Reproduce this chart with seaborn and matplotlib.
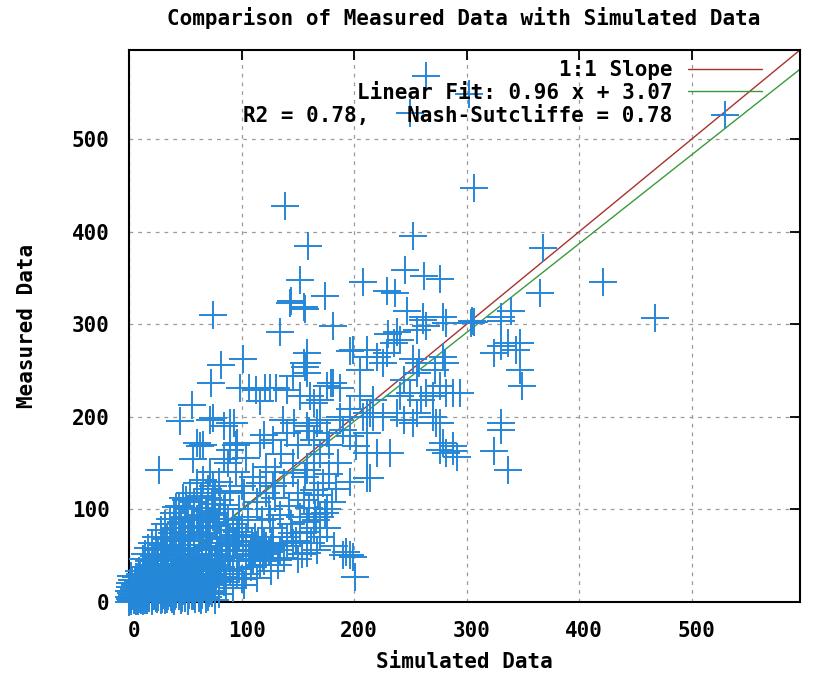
import matplotlib
matplotlib.use("Agg")
import matplotlib.pyplot as plt
from matplotlib.lines import Line2D
from matplotlib.transforms import ScaledTranslation
import pandas as pd
import seaborn as sns

title = "Comparison of Measured Data with Simulated Data"
x_label = "Simulated Data"
y_label = "Measured Data"
ticks = [0, 100, 200, 300, 400, 500]
axis_max = 596
fit_slope = 0.96
fit_intercept = 3.07
r2 = 0.78
nash_sutcliffe = 0.78

# (simulated, measured)
outlier_points = [
    (264, 568), (302, 548), (250, 528), (139, 428), (306, 447), (159, 384),
    (252, 395), (245, 358), (262, 352), (276, 349), (152, 348), (208, 345),
    (229, 336), (236, 334), (144, 325), (174, 330), (156, 316), (75, 310),
    (134, 292), (181, 298), (238, 291), (235, 280), (247, 314), (261, 308),
    (279, 308), (256, 294), (264, 298), (306, 302), (304, 301), (305, 303),
    (330, 308), (339, 314), (82, 256), (101, 262), (73, 236), (107, 231),
    (121, 231), (131, 231), (156, 254), (158, 258), (146, 244), (196, 271),
    (211, 272), (220, 265), (226, 258), (252, 262), (258, 258), (176, 233),
    (181, 236), (161, 222), (205, 222), (217, 218), (241, 222), (250, 226),
    (276, 233), (282, 226), (294, 226), (272, 251), (281, 258), (330, 276),
    (337, 280), (344, 272), (330, 193), (56, 213), (45, 195), (72, 197),
    (90, 193), (137, 197), (147, 193), (167, 193), (187, 200), (211, 204),
    (217, 200), (244, 197), (252, 193), (276, 193), (368, 382), (421, 346),
    (467, 307), (365, 334), (330, 303), (324, 269), (347, 280), (347, 251),
    (349, 233), (288, 226), (264, 226), (330, 186), (324, 163), (337, 143),
    (276, 164), (288, 163), (282, 161), (291, 157), (232, 161), (211, 161),
    (220, 161), (211, 134), (196, 130), (190, 51), (196, 51), (201, 27),
    (167, 56), (158, 53), (75, 199), (84, 190), (93, 193), (99, 231),
    (113, 229), (125, 231), (116, 217), (140, 229), (143, 323), (155, 319),
    (60, 172), (66, 170), (96, 172), (116, 172), (230, 289), (241, 283),
    (261, 305), (282, 301), (199, 272), (211, 265), (229, 269), (205, 251),
    (256, 247), (244, 240), (279, 265), (270, 222), (259, 218), (158, 269),
    (155, 258), (158, 247), (179, 236), (187, 231), (170, 218), (196, 208),
    (214, 204), (208, 200), (226, 200), (238, 204), (256, 204), (270, 200),
    (273, 193), (187, 197), (190, 186), (152, 222), (164, 215), (170, 197),
    (158, 190), (176, 182), (164, 175), (196, 179), (211, 182), (202, 168),
    (279, 172), (288, 168), (27, 143), (63, 168), (57, 154), (84, 154),
    (90, 164), (75, 125), (81, 110), (51, 110), (42, 103), (116, 128),
    (122, 118), (128, 125), (146, 139), (158, 143), (164, 121), (193, 54),
    (199, 49), (76, 2), (214, 134),
]

band_points = [
    (62, 88), (65, 102), (68, 75), (70, 112), (72, 60), (75, 94), (78, 82),
    (80, 130), (82, 68), (85, 105), (88, 90), (90, 120), (92, 72), (95, 140),
    (98, 100), (100, 80), (102, 118), (104, 62), (106, 92), (108, 56),
    (110, 135), (112, 70), (114, 108), (116, 50), (118, 88), (120, 64),
    (122, 146), (124, 100), (126, 58), (128, 80), (130, 112), (132, 45),
    (134, 94), (136, 70), (138, 128), (140, 60), (142, 104), (144, 84),
    (146, 150), (148, 66), (150, 118), (152, 92), (154, 52), (156, 135),
    (158, 76), (160, 102), (162, 64), (164, 150), (166, 88), (168, 116),
    (170, 70), (172, 128), (174, 96), (176, 80), (178, 138), (180, 108),
    (182, 60), (184, 122), (60, 20), (66, 35), (72, 12), (78, 40), (84, 22),
    (90, 48), (96, 30), (102, 18), (108, 38), (114, 26), (120, 44),
    (126, 34), (132, 40), (138, 48), (150, 46), (110, 60), (112, 55),
    (115, 66), (118, 58), (109, 65), (135, 160), (128, 175), (150, 170),
    (170, 160), (186, 150), (120, 180), (104, 155), (95, 170), (88, 150),
    (140, 182), (160, 185), (178, 170), (100, 125), (130, 140), (155, 110),
    (165, 95), (145, 75), (125, 90), (107, 52), (110, 50), (113, 62),
    (116, 56), (119, 48), (122, 60), (124, 54), (127, 64), (104, 70),
    (101, 60), (98, 72), (95, 66), (92, 56), (89, 64), (86, 60),
]

core_points = [
    (0, 0), (1, 3), (2, 1), (3, 6), (4, 2), (5, 9), (6, 4), (7, 12), (8, 1),
    (9, 7), (10, 3), (11, 15), (12, 5), (13, 10), (14, 2), (15, 18), (16, 8),
    (17, 13), (18, 4), (19, 22), (20, 11), (21, 6), (22, 16), (23, 25),
    (24, 9), (25, 3), (26, 19), (27, 13), (28, 28), (29, 7), (30, 22),
    (31, 15), (32, 2), (33, 33), (34, 11), (35, 26), (36, 18), (37, 5),
    (38, 38), (39, 14), (40, 29), (41, 21), (42, 9), (43, 45), (44, 17),
    (45, 34), (46, 26), (47, 4), (48, 40), (49, 12), (50, 31), (51, 22),
    (52, 55), (53, 8), (54, 44), (55, 27), (56, 16), (57, 36), (58, 62),
    (59, 3), (60, 48), (62, 24), (63, 33), (65, 58), (66, 14), (68, 41),
    (70, 70), (71, 29), (73, 52), (74, 19), (76, 36), (78, 64), (80, 9),
    (82, 45), (84, 27), (86, 78), (88, 55), (90, 34), (92, 15), (94, 62),
    (96, 44), (98, 88), (100, 25), (0, 5), (0, 12), (1, 20), (2, 28),
    (1, 16), (3, 24), (2, 10), (5, 18), (6, 27), (8, 22), (10, 30),
    (12, 46), (14, 52), (15, 33), (17, 58), (18, 44), (20, 64), (22, 50),
    (24, 70), (26, 56), (28, 78), (30, 62), (32, 84), (34, 68), (36, 90),
    (38, 74), (40, 96), (42, 80), (44, 104), (46, 86), (48, 112), (50, 92),
    (52, 100), (54, 118), (56, 82), (58, 108), (60, 128), (62, 94),
    (64, 114), (66, 132), (68, 98), (70, 122), (72, 140), (74, 106),
    (76, 118), (4, 14), (6, 20), (8, 12), (10, 22), (12, 30), (14, 24),
    (16, 34), (18, 28), (20, 40), (22, 34), (24, 46), (26, 38), (28, 50),
    (30, 44), (32, 56), (34, 48), (36, 60), (38, 52), (40, 66), (42, 58),
    (44, 70), (46, 62), (48, 76), (50, 68), (52, 80), (54, 72), (56, 88),
    (58, 76), (60, 90), (64, 82), (68, 92), (72, 86), (76, 96), (80, 90),
    (84, 100), (88, 70), (92, 84), (96, 76), (12, 1), (16, 2), (20, 1),
    (24, 4), (28, 2), (34, 3), (40, 1), (46, 2), (52, 1), (58, 6), (64, 2),
    (70, 5), (6, 1), (30, 8), (36, 10), (44, 6), (50, 14), (56, 10),
    (62, 12), (68, 18), (74, 10), (80, 24), (86, 18), (92, 26), (98, 36),
    (104, 30), (110, 46), (116, 40), (122, 52), (128, 62), (134, 56),
    (140, 70), (146, 64), (152, 74), (158, 86), (164, 80), (170, 92),
    (176, 100), (10, 8), (14, 6), (18, 10), (22, 8), (26, 12), (30, 16),
    (34, 20), (38, 24), (42, 30), (46, 36), (50, 42), (54, 50), (58, 56),
    (62, 66), (66, 72), (70, 80), (2, 4), (5, 2), (8, 5), (11, 2), (14, 8),
    (17, 5), (20, 3), (23, 7), (26, 5), (29, 3), (32, 9), (35, 6), (38, 3),
    (41, 7), (44, 11), (47, 8), (50, 4), (53, 12), (56, 6), (59, 10),
    (62, 4), (65, 8), (68, 3), (71, 10), (3, 9), (6, 12), (9, 16), (12, 19),
    (15, 12), (18, 16), (21, 20), (24, 14), (27, 18), (30, 12), (33, 17),
    (36, 13), (39, 19), (42, 15), (45, 20), (48, 17), (51, 26), (54, 20),
    (57, 14), (60, 30), (63, 18), (66, 26), (69, 22), (72, 34), (75, 26),
    (78, 30), (5, 24), (8, 27), (11, 24), (14, 29), (17, 26), (20, 31),
    (23, 36), (26, 30), (29, 35), (32, 39), (35, 41), (38, 32), (41, 36),
    (44, 40), (47, 30), (50, 36), (53, 34), (56, 40), (59, 24), (62, 38),
    (65, 44), (68, 50), (71, 46), (74, 42), (77, 50), (80, 56), (83, 50),
    (43, 24), (37, 28), (31, 24), (25, 22), (19, 35), (13, 38), (9, 33),
    (47, 52), (53, 46), (59, 40), (64, 30), (70, 38), (76, 44), (82, 38),
]

points = pd.DataFrame(
    outlier_points + band_points + core_points, columns=["simulated", "measured"]
)

red = "#a8322d"
green = "#3a9a3a"
blue = "#2587d8"
font_size = 15

sns.set_style("white")
plt.rcParams["font.family"] = ["DejaVu Sans Mono"]
plt.rcParams["font.weight"] = "bold"
plt.rcParams["text.color"] = "black"

fig = plt.figure(figsize=(8.26, 6.77), dpi=100)
ax = fig.add_axes([129 / 826, 1 - 602 / 677, 671 / 826, 552 / 677])

ax.axline((0, 0), slope=1, color=red, lw=1, zorder=2)
ax.axline((0, fit_intercept), slope=fit_slope, color=green, lw=1, zorder=2)
sns.scatterplot(
    data=points,
    x="simulated",
    y="measured",
    marker="+",
    s=400,
    color=blue,
    linewidth=1.4,
    clip_on=False,
    zorder=3,
    legend=False,
    ax=ax,
)

ax.set_xlim(0, axis_max)
ax.set_ylim(0, axis_max)
ax.set_xticks(ticks)
ax.set_yticks(ticks)
ax.set_axisbelow(True)
ax.grid(True, color="#9a9a9a", linestyle=(0, (3, 4)), lw=0.9)
ax.tick_params(direction="in", length=7, width=1.3, top=True, right=True,
               labelsize=font_size, colors="black", labelcolor="black")
ax.tick_params(axis="x", pad=14)
ax.tick_params(axis="y", pad=14)
for spine in ax.spines.values():
    spine.set_color("black")
    spine.set_linewidth(1.5)

# gnuplot puts the x tick labels a few pixels right of the tick
shift = ScaledTranslation(5 / 100, 0, fig.dpi_scale_trans)
for label in ax.get_xticklabels():
    label.set_transform(label.get_transform() + shift)

ax.set_xlabel(x_label, fontsize=font_size, fontweight="bold", color="black")
ax.set_ylabel(y_label, fontsize=font_size, fontweight="bold", color="black")
ax.xaxis.label.set_va("center")
ax.yaxis.label.set_va("center")
ax.xaxis.set_label_coords(0.5, (602 - 662) / 552)
ax.yaxis.set_label_coords((27 - 129) / 671, 0.5)

fig.text(464 / 826, 1 - 18 / 677, title, ha="center", va="center",
         fontsize=font_size, fontweight="bold", color="black")

handles = [
    Line2D([], [], color=red, lw=1),
    Line2D([], [], color=green, lw=1),
    Line2D([], [], ls="", marker="+", ms=20, mew=1.4, color=blue),
]
labels = [
    "1:1 Slope",
    f"Linear Fit: {fit_slope:.2f} x + {fit_intercept:.2f}",
    f"R2 = {r2:.2f},   Nash-Sutcliffe = {nash_sutcliffe:.2f}",
]
ax.legend(handles, labels, loc="upper right",
          bbox_to_anchor=((762 - 129) / 671, 1 - (60 - 50) / 552),
          frameon=False, markerfirst=False, handlelength=3.55,
          handletextpad=0.75, labelspacing=0.13, borderaxespad=0, borderpad=0,
          labelcolor="black",
          prop={"family": "DejaVu Sans Mono", "weight": "bold", "size": font_size})

fig.savefig("out.png", dpi=100)
